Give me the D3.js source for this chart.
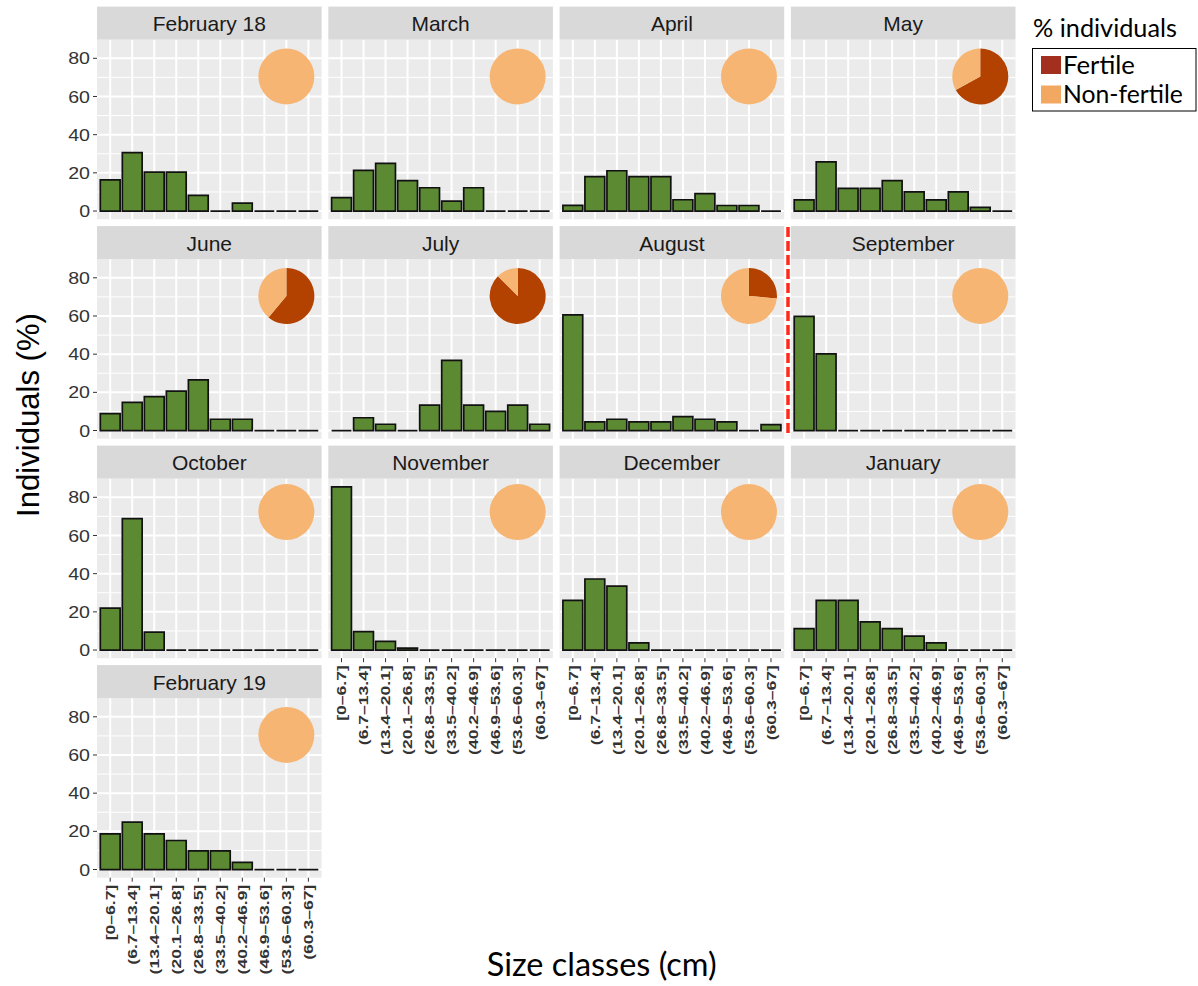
<!DOCTYPE html>
<html><head><meta charset="utf-8">
<script src="https://cdn.jsdelivr.net/npm/d3@7"></script>
<style>body{margin:0;background:#fff} svg{display:block}</style>
</head><body>
<svg id="chart" width="1198" height="986"></svg>
<script>
// ---------------- DATA ----------------
const sizeClasses = ["[0–6.7]","(6.7–13.4]","(13.4–20.1]","(20.1–26.8]","(26.8–33.5]","(33.5–40.2]","(40.2–46.9]","(46.9–53.6]","(53.6–60.3]","(60.3–67]"];
const months = ["February 18","March","April","May","June","July","August","September","October","November","December","January","February 19"];
const feb18     = [16.3, 30.6, 20.4, 20.4, 8.2, 0, 4.1, 0, 0, 0];
const march     = [7.0, 21.3, 25.0, 15.9, 12.2, 5.2, 12.2, 0, 0, 0];
const april     = [3.0, 18.0, 21.1, 18.0, 18.0, 5.9, 9.1, 2.9, 2.9, 0];
const may       = [5.8, 25.8, 11.9, 11.9, 15.9, 10.0, 5.8, 10.0, 1.9, 0];
const june      = [8.9, 14.8, 17.8, 20.6, 26.5, 5.9, 5.9, 0, 0, 0];
const july      = [0, 6.7, 3.3, 0, 13.3, 36.7, 13.3, 10.0, 13.3, 3.3];
const august    = [60.6, 4.5, 5.9, 4.5, 4.5, 7.3, 5.9, 4.5, 0, 3.1];
const september = [59.8, 40.2, 0, 0, 0, 0, 0, 0, 0, 0];
const october   = [21.9, 68.8, 9.4, 0, 0, 0, 0, 0, 0, 0];
const november  = [85.5, 9.6, 4.5, 1.0, 0, 0, 0, 0, 0, 0];
const december  = [26.0, 37.2, 33.5, 3.8, 0, 0, 0, 0, 0, 0];
const january   = [11.2, 26.0, 26.0, 14.8, 11.2, 7.3, 3.8, 0, 0, 0];
const feb19     = [18.7, 24.8, 18.7, 15.2, 9.8, 9.8, 3.7, 0, 0, 0];
const fertilePct = [0, 0, 0, 67, 61, 87.5, 26.5, 0, 0, 0, 0, 0, 0];
const yTicks = [0, 20, 40, 60, 80];
const yMinorTicks = [10, 30, 50, 70];
const legendLabels = ["Fertile", "Non-fertile"];
const legendTitle = "% individuals";
const xTitle = "Size classes (cm)";
const yTitle = "Individuals (%)";

const seriesByMonth = [feb18, march, april, may, june, july, august, september, october, november, december, january, feb19];

// ---------------- LAYOUT ----------------
const svg = d3.select("#chart");
const colX0 = 97, colPitch = 231.3, panelW = 224.6;
const stripTop0 = 6.6, rowPitch = 219.5, stripH = 33, plotH = 179.6;
const barFill = "#5B8A33";
const pieColors = {fertile: "#B34100", non: "#F7B574"};
const legendColors = ["#A3301E", "#F3A862"];
const sansFam = "Liberation Sans, Arial, sans-serif";

const x = d3.scaleBand().domain(sizeClasses).range([0, panelW]).paddingInner(0.1).paddingOuter(0.15);
const y = d3.scaleLinear().domain([-4.28, 89.8]).range([plotH, 0]);
const xc = c => x(c) + x.bandwidth() / 2;

const pie = d3.pie().sort(null).value(d => d);
const arc = d3.arc().innerRadius(0).outerRadius(28);

// stretch text along its direction by factor k
function stretch(sel, k) {
  const w = sel.node().getComputedTextLength();
  sel.attr("textLength", w * k).attr("lengthAdjust", "spacingAndGlyphs");
  return sel;
}

months.forEach((m, i) => {
  const col = i % 4, row = Math.floor(i / 4);
  const px = colX0 + col * colPitch;
  const stripTop = stripTop0 + row * rowPitch;
  const py = stripTop + stripH;
  const g = svg.append("g").attr("transform", `translate(${px},${py})`);

  // strip
  svg.append("rect").attr("x", px).attr("y", stripTop).attr("width", panelW).attr("height", stripH).attr("fill", "#D9D9D9");
  svg.append("text").attr("x", px + panelW / 2).attr("y", stripTop + 24.5)
    .attr("text-anchor", "middle").attr("font-family", sansFam)
    .attr("font-size", 21).attr("fill", "#1A1A1A").text(m);

  // panel background
  g.append("rect").attr("width", panelW).attr("height", plotH).attr("fill", "#EBEBEB");
  // minor grid
  g.selectAll(".ymin").data(yMinorTicks).join("line")
    .attr("x1", 0).attr("x2", panelW).attr("y1", d => y(d)).attr("y2", d => y(d))
    .attr("stroke", "#fff").attr("stroke-width", 1);
  // major grid
  g.selectAll(".ymaj").data(yTicks).join("line")
    .attr("x1", 0).attr("x2", panelW).attr("y1", d => y(d)).attr("y2", d => y(d))
    .attr("stroke", "#fff").attr("stroke-width", 2);
  g.selectAll(".xmaj").data(sizeClasses).join("line")
    .attr("x1", d => xc(d)).attr("x2", d => xc(d)).attr("y1", 0).attr("y2", plotH)
    .attr("stroke", "#fff").attr("stroke-width", 2);

  // bars (paths so that zero-height bars still show their outline)
  const vals = seriesByMonth[i];
  g.selectAll(".bar").data(vals).join("path")
    .attr("d", (v, j) => {
      const x0 = x(sizeClasses[j]), w = x.bandwidth();
      const y0 = y(0), y1 = y(v);
      return `M${x0},${y0}H${x0 + w}V${y1}H${x0}Z`;
    })
    .attr("fill", barFill).attr("stroke", "#111").attr("stroke-width", 1.7)
    .attr("stroke-linejoin", "miter");

  // pie
  const pieY = row === 2 ? 72.3 : 70.5;
  const pg = g.append("g").attr("transform", `translate(${xc(sizeClasses[8])},${y(pieY)})`);
  const f = fertilePct[i];
  if (f <= 0) {
    pg.append("circle").attr("r", 28).attr("fill", pieColors.non);
  } else {
    pg.selectAll("path").data(pie([f, 100 - f])).join("path")
      .attr("d", arc).attr("fill", (d, k) => k === 0 ? pieColors.fertile : pieColors.non);
  }

  // y axis on first column
  if (col === 0) {
    const ya = g.append("g");
    yTicks.forEach(t => {
      ya.append("line").attr("x1", -4).attr("x2", 0).attr("y1", y(t)).attr("y2", y(t))
        .attr("stroke", "#333").attr("stroke-width", 1);
      const tt = ya.append("text").attr("x", -7).attr("y", y(t))
        .attr("dy", "0.36em").attr("text-anchor", "end")
        .attr("font-family", sansFam).attr("font-size", 17)
        .attr("fill", "#333").text(t);
      stretch(tt, 1.15);
    });
  }
  // x axis on bottom panels
  if (i >= 9) {
    const xa = g.append("g").attr("transform", `translate(0,${plotH})`);
    sizeClasses.forEach(c => {
      xa.append("line").attr("x1", xc(c)).attr("x2", xc(c)).attr("y1", 0).attr("y2", 4)
        .attr("stroke", "#333").attr("stroke-width", 1);
      const tt = xa.append("text").attr("transform", `translate(${xc(c)},7) rotate(-90)`)
        .attr("dy", "0.36em").attr("text-anchor", "end")
        .attr("font-family", sansFam).attr("font-weight", "bold")
        .attr("font-size", 13.4).attr("fill", "#333").text(c);
      stretch(tt, 1.31);
    });
  }
});

// red dashed separator between August and September
svg.append("line").attr("x1", 788).attr("x2", 788).attr("y1", 227).attr("y2", 434)
  .attr("stroke", "#FF2A1A").attr("stroke-width", 3.5).attr("stroke-dasharray", "10,4");

// helper: scale font size so text reaches a target width
function fit(sel, target) {
  const w = sel.node().getComputedTextLength();
  const fs = parseFloat(sel.attr("font-size"));
  sel.attr("font-size", fs * target / w);
  return sel;
}

// axis titles
const yt = svg.append("text").attr("transform", "translate(39,415) rotate(-90)")
  .attr("text-anchor", "middle").attr("font-family", sansFam)
  .attr("font-size", 31).attr("fill", "#000").text(yTitle);
fit(yt, 204);
const xt = svg.append("text").attr("x", 601.7).attr("y", 976).attr("text-anchor", "middle")
  .attr("font-family", "Lato, sans-serif").attr("font-size", 27).attr("fill", "#000").text(xTitle);
fit(xt, 230);

// legend
const lt = svg.append("text").attr("x", 1033).attr("y", 37).attr("font-family", "Lato, sans-serif")
  .attr("font-size", 22).attr("fill", "#000").text(legendTitle);
fit(lt, 144);
svg.append("rect").attr("x", 1032.5).attr("y", 48.5).attr("width", 163.5).attr("height", 62.5)
  .attr("fill", "#fff").attr("stroke", "#000").attr("stroke-width", 1);
const keyY = [56, 85.5], textY = [74, 103], textW = [72, 120];
legendLabels.forEach((lab, k) => {
  svg.append("rect").attr("x", 1041).attr("y", keyY[k]).attr("width", 20).attr("height", 18)
    .attr("fill", legendColors[k]);
  const t = svg.append("text").attr("x", 1063).attr("y", textY[k]).attr("font-family", "Lato, sans-serif")
    .attr("font-size", 22).attr("fill", "#000").text(lab);
  fit(t, textW[k]);
});
</script>
</body></html>
